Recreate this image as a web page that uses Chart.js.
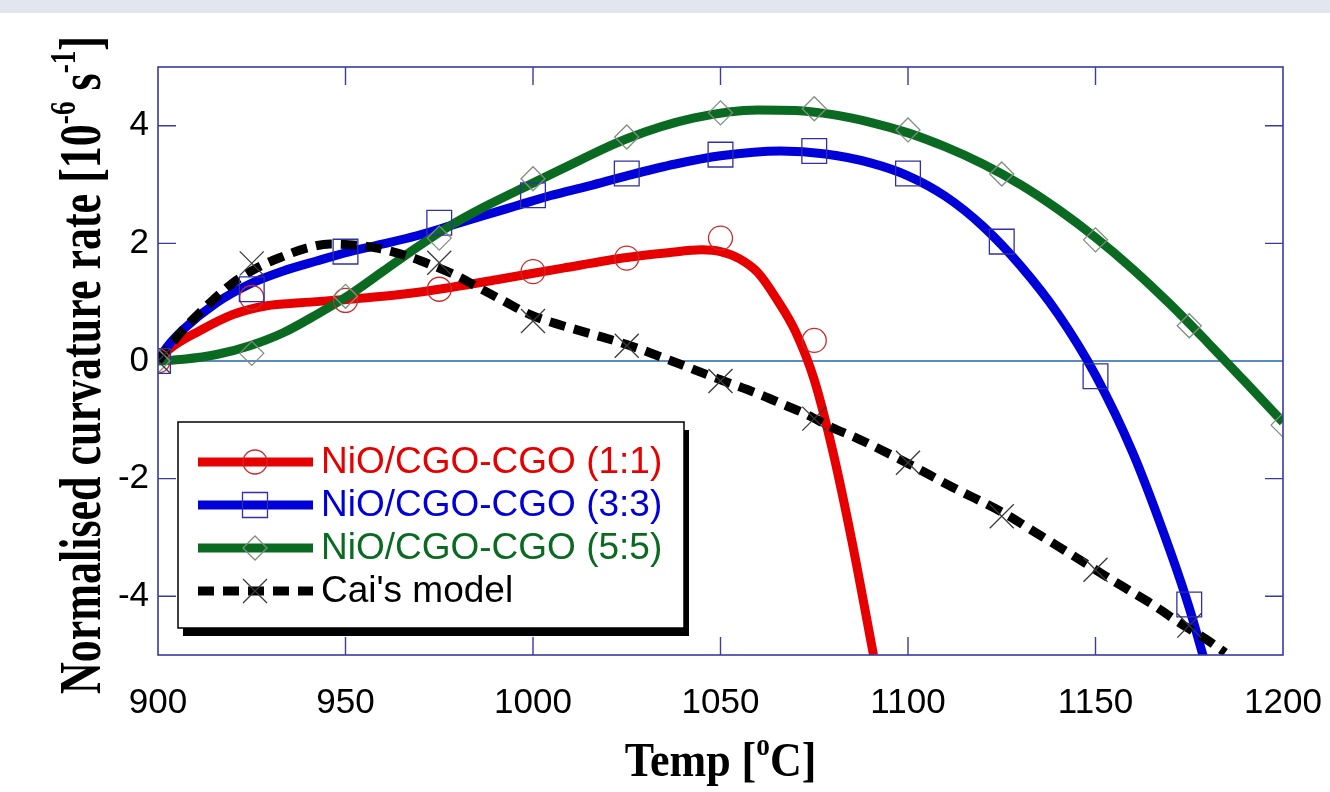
<!DOCTYPE html>
<html><head><meta charset="utf-8">
<script src="https://cdn.jsdelivr.net/npm/chart.js@4.4.0/dist/chart.umd.min.js"></script>
<style>
html,body{margin:0;padding:0;background:#fff;}
#wrap{position:absolute;left:0;top:0;width:1330px;height:792px;}
#strip{position:absolute;left:0;top:0;width:1330px;height:13px;background:#e2e6ef;}
</style></head><body>
<div id="wrap"><canvas id="c" width="1330" height="792"></canvas></div>
<div id="strip"></div>
<script>
// ---------- data ----------
const xTicks = [900, 950, 1000, 1050, 1100, 1150, 1200];
const yTicks = [-4, -2, 0, 2, 4];
const seriesLabels = ['NiO/CGO-CGO (1:1)', 'NiO/CGO-CGO (3:3)', 'NiO/CGO-CGO (5:5)', "Cai's model"];

// measured points (markers)
const tempRed   = [900, 925, 950, 975, 1000, 1025, 1050, 1075];
const ptsRed    = [0, 1.08, 1.03, 1.22, 1.52, 1.75, 2.09, 0.35];
const tempBlue  = [900, 925, 950, 975, 1000, 1025, 1050, 1075, 1100, 1125, 1150, 1175];
const ptsBlue   = [0, 1.22, 1.86, 2.35, 2.82, 3.19, 3.51, 3.57, 3.19, 2.03, -0.26, -4.14];
const tempGreen = [900, 925, 950, 975, 1000, 1025, 1050, 1075, 1100, 1125, 1150, 1175, 1200];
const ptsGreen  = [0, 0.13, 1.1, 2.09, 3.1, 3.81, 4.22, 4.29, 3.93, 3.18, 2.06, 0.6, -1.09];
const tempCai   = [900, 925, 975, 1000, 1025, 1050, 1075, 1100, 1125, 1150, 1175];
const ptsCai    = [0, 1.66, 1.67, 0.68, 0.26, -0.34, -0.98, -1.73, -2.64, -3.55, -4.5];

// fitted curves
const fitRedT = [900, 903, 911, 920, 929, 938, 951, 964.5, 978, 991, 1008, 1025, 1036, 1045, 1050, 1055, 1060, 1065, 1070, 1075, 1080, 1085, 1090.8];
const fitRed  = [0, 0.2, 0.51, 0.79, 0.94, 0.99, 1.05, 1.13, 1.25, 1.39, 1.58, 1.76, 1.84, 1.89, 1.86, 1.74, 1.5, 1.05, 0.5, -0.32, -1.55, -3.05, -5.0];
const fitBlueT = [900, 902.3, 906.8, 915.6, 924.5, 933.4, 942.3, 951.2, 960.1, 969, 977.9, 986.7, 995.6, 1004.5, 1015, 1025, 1038, 1050, 1066, 1078, 1090, 1100, 1110, 1120, 1130, 1140, 1150, 1160, 1170, 1175, 1179];
const fitBlue  = [0, 0.23, 0.54, 0.99, 1.31, 1.53, 1.70, 1.86, 1.99, 2.13, 2.30, 2.47, 2.64, 2.81, 2.98, 3.15, 3.35, 3.49, 3.57, 3.52, 3.37, 3.15, 2.8, 2.29, 1.62, 0.8, -0.24, -1.57, -3.25, -4.2, -5.08];
const fitGreenT = [900, 906.8, 915.6, 924.5, 933.4, 942.3, 951.2, 960.1, 969, 977.9, 986.7, 995.6, 1007.2, 1025, 1042.7, 1060, 1070, 1080, 1090, 1100, 1110, 1120, 1130, 1140, 1150, 1160, 1170, 1180, 1190, 1200];
const fitGreen  = [0, 0.03, 0.11, 0.26, 0.48, 0.79, 1.13, 1.53, 1.93, 2.30, 2.61, 2.89, 3.25, 3.78, 4.13, 4.27, 4.26, 4.19, 4.06, 3.88, 3.64, 3.35, 3.0, 2.58, 2.1, 1.56, 0.96, 0.31, -0.36, -1.04];
const fitCaiT = [900, 901.4, 906.8, 913.4, 919.6, 926.3, 933, 939.6, 945.9, 953, 959.2, 966.3, 973, 979.6, 986.3, 992.5, 999.2, 1005.9, 1015, 1025, 1037, 1050, 1060.5, 1066.8, 1073, 1079.7, 1086.3, 1092.5, 1099.6, 1112, 1126.2, 1133.3, 1138.7, 1145.8, 1152, 1159.2, 1165.4, 1172.6, 1179.7, 1184.6];
const fitCai  = [0, 0.11, 0.54, 0.96, 1.31, 1.58, 1.77, 1.92, 1.99, 1.97, 1.91, 1.79, 1.63, 1.45, 1.22, 1.01, 0.79, 0.64, 0.47, 0.28, 0.0, -0.32, -0.57, -0.74, -0.91, -1.13, -1.31, -1.5, -1.73, -2.15, -2.61, -2.89, -3.1, -3.38, -3.63, -3.91, -4.15, -4.46, -4.74, -4.96];

// ---------- styles ----------
const RED = '#e60000', BLUE = '#0000d8', GREEN = '#0a6a22', BLACK = '#000000';
const FRAME = '#3a3aa0';
const SANS = '"Liberation Sans", Arial, sans-serif';
const SERIF = '"Liberation Serif", "Times New Roman", serif';

const xy = (xs, ys) => xs.map((x, i) => ({x: x, y: ys[i]}));

function curve(label, xs, ys, color, order, dash) {
  return {
    label: label, data: xy(xs, ys), borderColor: color, backgroundColor: color,
    borderWidth: 9, pointRadius: 0, pointHoverRadius: 0, fill: false,
    cubicInterpolationMode: 'monotone', borderDash: dash || [], borderCapStyle: 'butt',
    order: order, isCurve: true
  };
}
function marks(label, xs, ys, style, r, color, order) {
  return {
    label: label, data: xy(xs, ys), showLine: false, pointStyle: style,
    pointRadius: r, pointHoverRadius: r, pointBorderColor: color,
    pointBackgroundColor: 'rgba(0,0,0,0)', pointBorderWidth: 1.3,
    borderColor: color, order: order, isCurve: false
  };
}

const datasets = [
  curve(seriesLabels[0], fitRedT, fitRed, RED, 10),
  curve(seriesLabels[1], fitBlueT, fitBlue, BLUE, 9),
  curve(seriesLabels[2], fitGreenT, fitGreen, GREEN, 8),
  curve(seriesLabels[3], fitCaiT, fitCai, BLACK, 7, [16, 9]),
  marks(seriesLabels[0], tempRed, ptsRed, 'circle', 12, '#cc2a2a', 3),
  marks(seriesLabels[1], tempBlue, ptsBlue, 'rect', 17.5, '#3030a8', 2),
  marks(seriesLabels[2], tempGreen, ptsGreen, 'rectRot', 12, '#7f8f80', 1),
  marks(seriesLabels[3], tempCai, ptsCai, 'crossRot', 17, '#3a3a3a', 0)
];

// ---------- helpers ----------
function drawRich(ctx, runs, size, fam, cx, baseY) {
  let total = 0;
  runs.forEach(r => {
    ctx.font = 'bold ' + (r.sup ? size * 0.62 : size) + 'px ' + fam;
    r.w = ctx.measureText(r.t).width; total += r.w;
  });
  let x = cx - total / 2;
  ctx.textAlign = 'left'; ctx.textBaseline = 'alphabetic';
  runs.forEach(r => {
    ctx.font = 'bold ' + (r.sup ? size * 0.62 : size) + 'px ' + fam;
    ctx.fillText(r.t, x, r.sup ? baseY - size * 0.42 : baseY);
    x += r.w;
  });
}
function markerPath(ctx, style, x, y) {
  ctx.beginPath();
  if (style === 'circle') { ctx.arc(x, y, 12, 0, Math.PI * 2); }
  else if (style === 'rect') { ctx.rect(x - 12.5, y - 12.5, 25, 25); }
  else if (style === 'rectRot') { ctx.moveTo(x - 12, y); ctx.lineTo(x, y - 12); ctx.lineTo(x + 12, y); ctx.lineTo(x, y + 12); ctx.closePath(); }
  else { ctx.moveTo(x - 12, y - 12); ctx.lineTo(x + 12, y + 12); ctx.moveTo(x + 12, y - 12); ctx.lineTo(x - 12, y + 12); }
  ctx.stroke();
}

const decorPlugin = {
  id: 'decor',
  afterDatasetsDraw(chart) {
    const ctx = chart.ctx, a = chart.chartArea;
    const xs = chart.scales.x, ys = chart.scales.y;
    ctx.save();
    // frame
    ctx.strokeStyle = FRAME; ctx.lineWidth = 1.6;
    ctx.strokeRect(a.left, a.top, a.right - a.left, a.bottom - a.top);
    // inward ticks
    ctx.lineWidth = 1.4;
    ctx.beginPath();
    xs.ticks.forEach(t => {
      const px = xs.getPixelForValue(t.value);
      if (px <= a.left + 1 || px >= a.right - 1) return;
      ctx.moveTo(px, a.bottom); ctx.lineTo(px, a.bottom - 18);
      ctx.moveTo(px, a.top); ctx.lineTo(px, a.top + 18);
    });
    ys.ticks.forEach(t => {
      if (t.value === 0) return;
      const py = ys.getPixelForValue(t.value);
      ctx.moveTo(a.left, py); ctx.lineTo(a.left + 18, py);
      ctx.moveTo(a.right, py); ctx.lineTo(a.right - 18, py);
    });
    ctx.stroke();

    // legend
    const L = {x: 178, y: 422, w: 506, h: 206};
    ctx.fillStyle = '#000';
    ctx.fillRect(L.x + 5, L.y + 8, L.w, L.h);
    ctx.fillStyle = '#fff';
    ctx.fillRect(L.x, L.y, L.w, L.h);
    ctx.strokeStyle = '#000'; ctx.lineWidth = 1.5;
    ctx.strokeRect(L.x, L.y, L.w, L.h);
    const rows = [462, 505, 548, 591];
    const curves = chart.data.datasets.filter(d => d.isCurve);
    const markers = chart.data.datasets.filter(d => !d.isCurve);
    const textColors = [RED, BLUE, '#0a6a22', '#000'];
    curves.forEach((d, i) => {
      const yy = rows[i];
      ctx.save();
      ctx.strokeStyle = d.borderColor; ctx.lineWidth = 9; ctx.lineCap = 'butt';
      ctx.setLineDash(d.borderDash || []);
      ctx.beginPath(); ctx.moveTo(198, yy); ctx.lineTo(313, yy); ctx.stroke();
      ctx.restore();
      const m = markers[i];
      ctx.strokeStyle = m.pointBorderColor; ctx.lineWidth = 1.3;
      markerPath(ctx, m.pointStyle, 255, yy);
      ctx.fillStyle = textColors[i];
      ctx.font = '37px ' + SANS; ctx.textAlign = 'left'; ctx.textBaseline = 'middle';
      ctx.fillText(d.label, 321, yy + 1);
    });

    // axis titles
    ctx.fillStyle = '#000';
    ctx.save();
    ctx.translate(0, 776);
    ctx.scale(1, 1.12);
    drawRich(ctx, [{t: 'Temp ['}, {t: 'o', sup: true}, {t: 'C]'}], 44, SERIF, (a.left + a.right) / 2, 0);
    ctx.restore();
    ctx.save();
    ctx.translate(100, (a.top + a.bottom) / 2 + 4);
    ctx.rotate(-Math.PI / 2);
    ctx.scale(1, 1.35);
    drawRich(ctx, [{t: 'Normalised curvature rate [10'}, {t: '-6', sup: true}, {t: ' s'}, {t: '-1', sup: true}, {t: ']'}], 44, SERIF, 0, 0);
    ctx.restore();
    ctx.restore();
  }
};

new Chart(document.getElementById('c'), {
  type: 'line',
  data: { datasets: datasets },
  options: {
    responsive: false, animation: false,
    layout: { autoPadding: false, padding: { top: 67, right: 47, left: 0, bottom: 0 } },
    plugins: { legend: { display: false }, tooltip: { enabled: false } },
    events: [],
    scales: {
      x: {
        type: 'linear', min: 900, max: 1200,
        afterBuildTicks: s => { s.ticks = xTicks.map(v => ({value: v})); },
        afterFit: s => { s.height = 137; s.paddingLeft = 0; s.paddingRight = 0; },
        grid: { display: false, drawTicks: false },
        border: { display: false },
        ticks: { color: '#000', font: { family: SANS, size: 35 }, padding: 27, maxRotation: 0, autoSkip: false, callback: v => String(v) }
      },
      y: {
        type: 'linear', min: -5, max: 5,
        afterBuildTicks: s => { s.ticks = yTicks.map(v => ({value: v})); },
        afterFit: s => { s.width = 158; s.paddingTop = 0; s.paddingBottom = 0; },
        grid: { drawTicks: false, lineWidth: 2, color: c => (c.tick && c.tick.value === 0) ? '#5a8cbd' : 'rgba(0,0,0,0)' },
        border: { display: false },
        ticks: { color: '#000', font: { family: SANS, size: 35 }, padding: 9, autoSkip: false, callback: v => String(v) }
      }
    }
  },
  plugins: [decorPlugin]
});
</script>
</body></html>
